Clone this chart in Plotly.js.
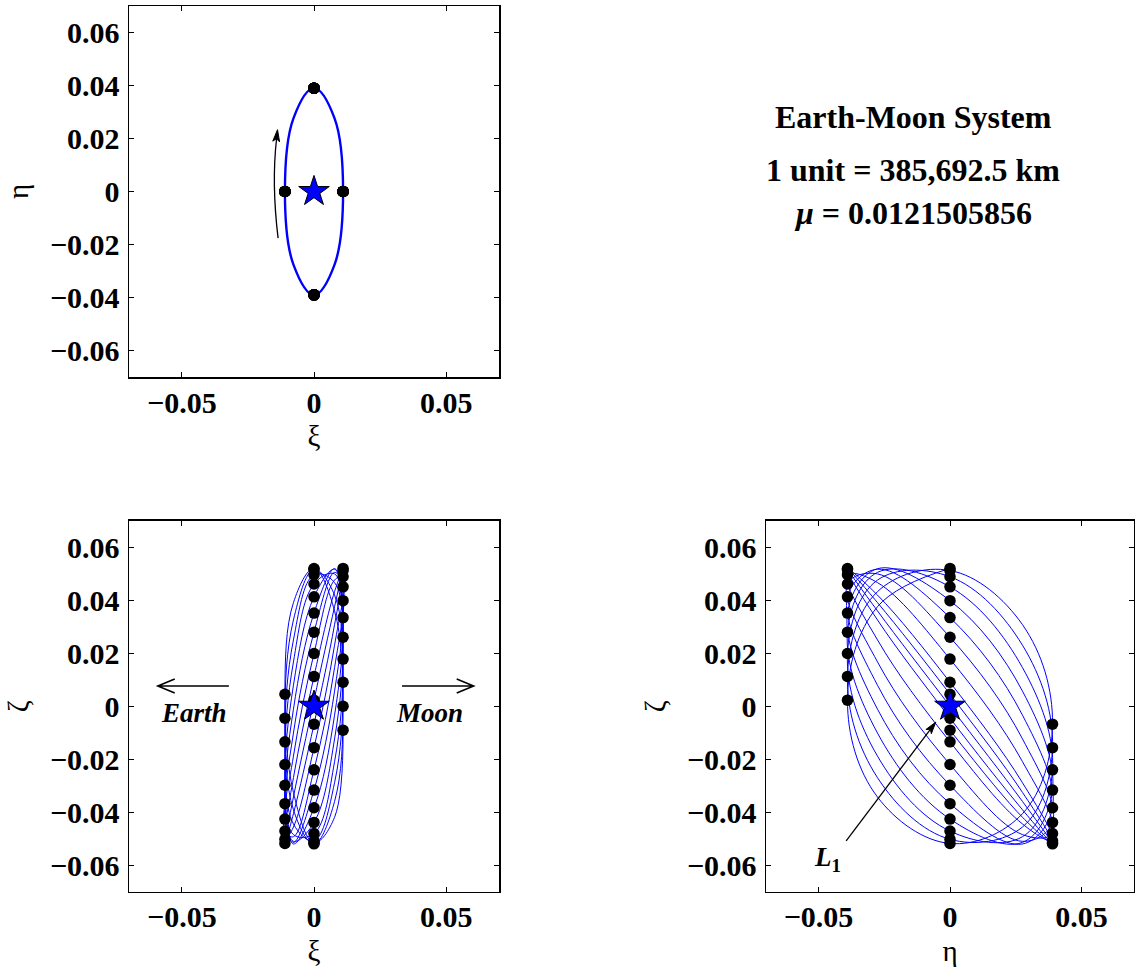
<!DOCTYPE html>
<html>
<head>
<meta charset="utf-8">
<script src="https://cdn.plot.ly/plotly-3.0.1.min.js"></script>
<style>
html,body{margin:0;padding:0;background:#ffffff;}
#chart{width:1135px;height:968px;}
</style>
</head>
<body>
<div id="chart"></div>
<script>
// Trajectory samples every 1/8 of an in-plane revolution
const xi = [
  0.011, 0.00778, 0, -0.00778, -0.011, -0.00778, 0, 0.00778,
  0.011, 0.00778, 0, -0.00778, -0.011, -0.00778, 0, 0.00778,
  0.011, 0.00778, 0, -0.00778, -0.011, -0.00778, 0, 0.00778,
  0.011, 0.00778, 0, -0.00778, -0.011, -0.00778, 0, 0.00778,
  0.011, 0.00778, 0, -0.00778, -0.011, -0.00778, 0, 0.00778,
  0.011, 0.00778, 0, -0.00778, -0.011, -0.00778, 0, 0.00778,
  0.011, 0.00778, 0, -0.00778, -0.011, -0.00778, 0, 0.00778,
  0.011, 0.00778, 0, -0.00778, -0.011, -0.00778, 0, 0.00778,
  0.011, 0.00778, 0, -0.00778, -0.011, -0.00778, 0, 0.00778,
  0.011, 0.00778, 0, -0.00778, -0.011, -0.00778, 0, 0.00778,
  0.011
];
const eta = [
  0, -0.02758, -0.039, -0.02758, 0, 0.02758, 0.039, 0.02758,
  0, -0.02758, -0.039, -0.02758, 0, 0.02758, 0.039, 0.02758,
  0, -0.02758, -0.039, -0.02758, 0, 0.02758, 0.039, 0.02758,
  0, -0.02758, -0.039, -0.02758, 0, 0.02758, 0.039, 0.02758,
  0, -0.02758, -0.039, -0.02758, 0, 0.02758, 0.039, 0.02758,
  0, -0.02758, -0.039, -0.02758, 0, 0.02758, 0.039, 0.02758,
  0, -0.02758, -0.039, -0.02758, 0, 0.02758, 0.039, 0.02758,
  0, -0.02758, -0.039, -0.02758, 0, 0.02758, 0.039, 0.02758,
  0, -0.02758, -0.039, -0.02758, 0, 0.02758, 0.039, 0.02758,
  0, -0.02758, -0.039, -0.02758, 0, 0.02758, 0.039, 0.02758,
  0
];
const zeta = [
  0.05200, 0.03756, 0.00227, -0.03428, -0.05180, -0.04055, -0.00679, 0.03075,
  0.05121, 0.04324, 0.01125, -0.02698, -0.05023, -0.04559, -0.01564, 0.02300,
  0.04886, 0.04760, 0.01990, -0.01885, -0.04713, -0.04924, -0.02401, 0.01455,
  0.04503, 0.05051, 0.02794, -0.01014, -0.04260, -0.05139, -0.03166, 0.00566,
  0.03983, 0.05189, 0.03513, -0.00113, -0.03677, -0.05199, -0.03834, -0.00340,
  0.03343, 0.05169, 0.04126, 0.00791, -0.02983, -0.05100, -0.04386, -0.01236,
  0.02600, 0.04992, 0.04612, 0.01671, -0.02198, -0.04846, -0.04804, -0.02094,
  0.01778, 0.04664, 0.04959, 0.02501, -0.01346, -0.04445, -0.05077, -0.02889,
  0.00903, 0.04193, 0.05155, 0.03254, -0.00453, -0.03909, -0.05195, -0.03596,
  0.00000, 0.03596, 0.05195, 0.03909, 0.00453, -0.03254, -0.05155, -0.04193,
  -0.00903
];
// Libration point L1 (origin of the local frame)
const starXi = [0];
const starEta = [0];
const starZeta = [0];
// Tick values
const xTickVals = [-0.05, 0, 0.05];
const yTickVals = [-0.06, -0.04, -0.02, 0, 0.02, 0.04, 0.06];

// Dots mark every quarter of the in-plane revolution
const dotXi = xi.filter((v, i) => i % 2 === 0);
const dotEta = eta.filter((v, i) => i % 2 === 0);
const dotZeta = zeta.filter((v, i) => i % 2 === 0);

const BLUE = '#0000ff';
const SERIF = 'Liberation Serif, Times New Roman, serif';

function lineTrace(x, y, xa, ya, w) {
  return {x: x, y: y, xaxis: xa, yaxis: ya, type: 'scatter', mode: 'lines',
    line: {color: BLUE, width: w, shape: 'spline', smoothing: 1.08},
    hoverinfo: 'skip', showlegend: false};
}
function dotTrace(x, y, xa, ya) {
  return {x: x, y: y, xaxis: xa, yaxis: ya, type: 'scatter', mode: 'markers',
    marker: {color: 'black', size: 11.5, line: {width: 0}},
    hoverinfo: 'skip', showlegend: false};
}
function starTrace(x, y, xa, ya) {
  return {x: x, y: y, xaxis: xa, yaxis: ya, type: 'scatter', mode: 'markers',
    marker: {symbol: 'star', color: BLUE, size: 23, line: {color: 'black', width: 1}},
    hoverinfo: 'skip', showlegend: false};
}

const data = [
  lineTrace(xi, eta, 'x', 'y', 2.4),
  dotTrace(dotXi, dotEta, 'x', 'y'),
  starTrace(starXi, starEta, 'x', 'y'),
  lineTrace(xi, zeta, 'x2', 'y2', 1),
  dotTrace(dotXi, dotZeta, 'x2', 'y2'),
  starTrace(starXi, starZeta, 'x2', 'y2'),
  lineTrace(eta, zeta, 'x3', 'y3', 1),
  dotTrace(dotEta, dotZeta, 'x3', 'y3'),
  starTrace(starEta, starZeta, 'x3', 'y3')
];

function axis(domain, anchor, vals, title, standoff, labelOff) {
  return {
    domain: domain, anchor: anchor, range: [-0.07, 0.07],
    tickmode: 'array', tickvals: vals,
    ticks: 'inside', ticklen: 5, tickwidth: 1, tickcolor: 'black',
    showline: true, linecolor: 'black', linewidth: 1.5, mirror: 'allticks',
    showgrid: false, zeroline: false, fixedrange: true,
    tickfont: {family: SERIF, size: 30, color: 'black', weight: 'bold'},
    ticklabelstandoff: labelOff,
    title: {text: title, font: {family: SERIF, size: 29, color: 'black'}, standoff: standoff}
  };
}

const xL = [129 / 1135, 499 / 1135];
const xR = [766 / 1135, 1134 / 1135];
const yT = [(968 - 377) / 968, (968 - 6) / 968];
const yB = [(968 - 891.7) / 968, (968 - 520.7) / 968];

const annFont = {family: SERIF, size: 32, color: 'black'};
const arrowLine = {color: 'black', width: 1.3};
const layout = {
  width: 1135, height: 968,
  margin: {l: 0, r: 0, t: 0, b: 0},
  paper_bgcolor: 'white', plot_bgcolor: 'white',
  showlegend: false,
  font: {family: SERIF, color: 'black'},
  xaxis: axis(xL, 'y', xTickVals, 'ξ', 8, -2),
  yaxis: axis(yT, 'x', yTickVals, 'η', 12, 2),
  xaxis2: axis(xL, 'y2', xTickVals, 'ξ', 8, -2),
  yaxis2: axis(yB, 'x2', yTickVals, 'ζ', 12, 2),
  xaxis3: axis(xR, 'y3', xTickVals, 'η', 8, -2),
  yaxis3: axis(yB, 'x3', yTickVals, 'ζ', 12, 2),
  shapes: [
    // direction-of-motion arrow (top-left): curved shaft + head
    {type: 'path', xref: 'x', yref: 'y', layer: 'above',
     path: 'M -0.01358,-0.01762 Q -0.0161,0.0030 -0.01415,0.0200',
     line: arrowLine},
    {type: 'path', xref: 'x', yref: 'y', layer: 'above',
     path: 'M -0.01381,0.02333 L -0.01560,0.01900 L -0.01419,0.01995 L -0.01302,0.01872 Z',
     line: {color: 'black', width: 1}, fillcolor: 'black'},
    // Earth arrow
    {type: 'path', xref: 'x2', yref: 'y2', layer: 'above',
     path: 'M -0.0322,0.0076 L -0.0591,0.0076 M -0.0527,0.01025 L -0.0591,0.0076 L -0.0527,0.00495',
     line: {color: 'black', width: 1.6}},
    // Moon arrow
    {type: 'path', xref: 'x2', yref: 'y2', layer: 'above',
     path: 'M 0.0333,0.0076 L 0.0604,0.0076 M 0.0540,0.01025 L 0.0604,0.0076 L 0.0540,0.00495',
     line: {color: 'black', width: 1.6}},
    // L1 arrow
    {type: 'path', xref: 'x3', yref: 'y3', layer: 'above',
     path: 'M -0.0395,-0.0508 L -0.00746,-0.00871',
     line: arrowLine},
    {type: 'path', xref: 'x3', yref: 'y3', layer: 'above',
     path: 'M -0.0054,-0.0060 L -0.0071,-0.01037 L -0.00746,-0.00871 L -0.00916,-0.00879 Z',
     line: {color: 'black', width: 1}, fillcolor: 'black'}
  ],
  annotations: [
    {xref: 'paper', yref: 'paper', x: 913 / 1135, y: (968 - 117) / 968, xanchor: 'center', yanchor: 'middle',
     text: '<b>Earth-Moon System</b>', showarrow: false, font: annFont},
    {xref: 'paper', yref: 'paper', x: 913 / 1135, y: (968 - 170) / 968, xanchor: 'center', yanchor: 'middle',
     text: '<b>1 unit = 385,692.5 km</b>', showarrow: false, font: annFont},
    {xref: 'paper', yref: 'paper', x: 913 / 1135, y: (968 - 213) / 968, xanchor: 'center', yanchor: 'middle',
     text: '<b><i>μ</i> = 0.0121505856</b>', showarrow: false, font: annFont},
    {xref: 'x2', yref: 'y2', x: -0.0455, y: -0.0025, text: '<b><i>Earth</i></b>', showarrow: false,
     font: {family: SERIF, size: 27, color: 'black'}},
    {xref: 'x2', yref: 'y2', x: 0.0438, y: -0.0025, text: '<b><i>Moon</i></b>', showarrow: false,
     font: {family: SERIF, size: 27, color: 'black'}},
    {xref: 'x3', yref: 'y3', x: -0.0465, y: -0.0578, text: '<b><i>L</i><sub>1</sub></b>', showarrow: false,
     font: {family: SERIF, size: 27, color: 'black'}}
  ]
};

Plotly.newPlot('chart', data, layout, {staticPlot: true, displayModeBar: false});
</script>
</body>
</html>
